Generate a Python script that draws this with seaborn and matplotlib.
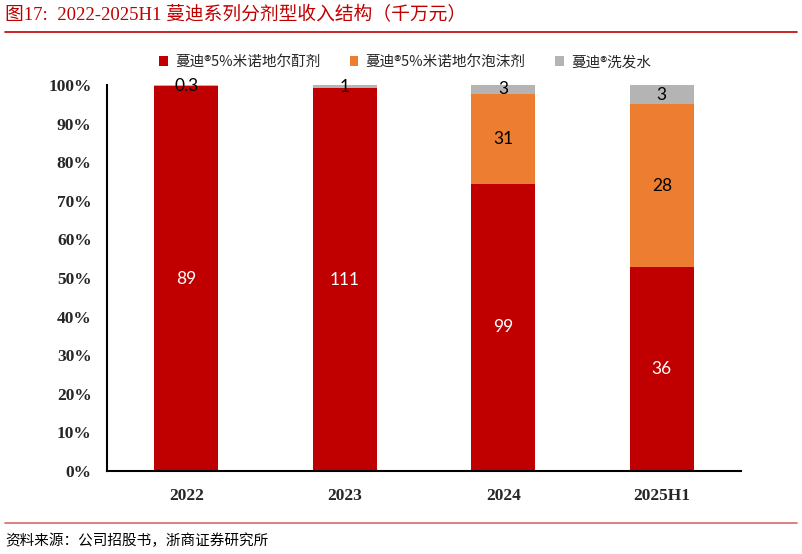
import numpy as np
import pandas as pd
import matplotlib
matplotlib.use("Agg")
import matplotlib.pyplot as plt
import seaborn as sns
from matplotlib.patches import Patch
from matplotlib.lines import Line2D

categories = ["2022", "2023", "2024", "2025H1"]
tincture = [89, 111, 99, 35.6]        # 蔓迪®5%米诺地尔酊剂
foam = [0, 0, 31, 28.4]               # 蔓迪®5%米诺地尔泡沫剂
shampoo = [0.3, 1, 3, 3.4]            # 蔓迪®洗发水
series_names = ["蔓迪®5%米诺地尔酊剂", "蔓迪®5%米诺地尔泡沫剂", "蔓迪®洗发水"]
colors = ["#C00000", "#ED7D31", "#B4B4B4"]
label_colors = ["white", "black", "black"]
yticks = [0, 10, 20, 30, 40, 50, 60, 70, 80, 90, 100]

sns.set_theme(style="white")
plt.rcParams["font.family"] = ["Noto Sans CJK SC", "DejaVu Sans"]

df = pd.DataFrame({"year": categories, "t": tincture, "f": foam, "s": shampoo})
tot = df[["t", "f", "s"]].sum(axis=1)
df["p_t"] = df["t"] / tot * 100
df["p_f"] = df["f"] / tot * 100
df["p_s"] = df["s"] / tot * 100
df["c1"] = df["p_t"]
df["c2"] = df["p_t"] + df["p_f"]
df["c3"] = df["c2"] + df["p_s"]

fig = plt.figure(figsize=(8.02, 5.54), dpi=100)
ax = fig.add_axes([0.1334, 0.150, 0.7906, 0.6966])

for col, c in zip(["c3", "c2", "c1"], colors[::-1]):
    sns.barplot(data=df, x="year", y=col, color=c, width=0.404, ax=ax,
                saturation=1, edgecolor="none", linewidth=0)


def fmt(v):
    return f"{v:.1f}" if v < 1 else f"{round(v):d}"


# data labels
for i in range(len(categories)):
    segs = [(0, df["c1"][i], tincture[i], 0),
            (df["c1"][i], df["c2"][i], foam[i], 1),
            (df["c2"][i], df["c3"][i], shampoo[i], 2)]
    for lo, hi, v, k in segs:
        if v == 0:
            continue
        ax.text(i, (lo + hi) / 2, fmt(v), ha="center", va="center",
                fontsize=12.5, color=label_colors[k], family=["Lato", "DejaVu Sans"])

ax.set_ylim(0, 100)
ax.set_xlim(-0.5, 3.5)
ax.set_yticks(yticks)
ax.set_yticklabels([f"{v}%" for v in yticks], family=["Liberation Serif"],
                   fontweight="bold", fontsize=12.5)
ax.set_xticks(range(len(categories)))
ax.set_xticklabels(categories, family=["Liberation Serif"], fontweight="bold", fontsize=12.5)
ax.set_xlabel("")
ax.set_ylabel("")
ax.set_xticks([-0.5, 0.5, 1.5, 2.5, 3.5], minor=True)
ax.tick_params(axis="x", which="major", length=0, pad=12)
ax.tick_params(axis="x", which="minor", length=5, width=1.5, direction="out", color="black")
ax.tick_params(axis="y", which="major", length=5, width=1.5, direction="out", color="black", pad=6)
sns.despine(ax=ax, top=True, right=True)
for s in ["left", "bottom"]:
    ax.spines[s].set_color("black")
    ax.spines[s].set_linewidth(1.5)

handles = [Patch(facecolor=c, edgecolor="none") for c in colors]
leg = fig.legend(handles, series_names, loc="center", bbox_to_anchor=(0.505, 0.888),
                 ncol=3, frameon=False, fontsize=10.5, handlelength=0.6, handleheight=0.6,
                 handletextpad=0.5, columnspacing=2.0)

fig.text(0.006, 0.972, "图17:  2022-2025H1 蔓迪系列分剂型收入结构（千万元）", color="#C00000",
         fontsize=13.5, va="center", ha="left", family=["Liberation Serif", "Noto Sans CJK SC"])
fig.add_artist(Line2D([0.006, 0.994], [1 - 31.5 / 554] * 2, color="#C00000", lw=1.2,
                      transform=fig.transFigure))
fig.add_artist(Line2D([0.006, 0.994], [1 - 523 / 554] * 2, color="#D46A6A", lw=1.2,
                      transform=fig.transFigure))
fig.text(0.006, 1 - 541 / 554, "资料来源：公司招股书，浙商证券研究所", color="black",
         fontsize=10.5, va="center", ha="left")

fig.savefig("out.png", dpi=100)
